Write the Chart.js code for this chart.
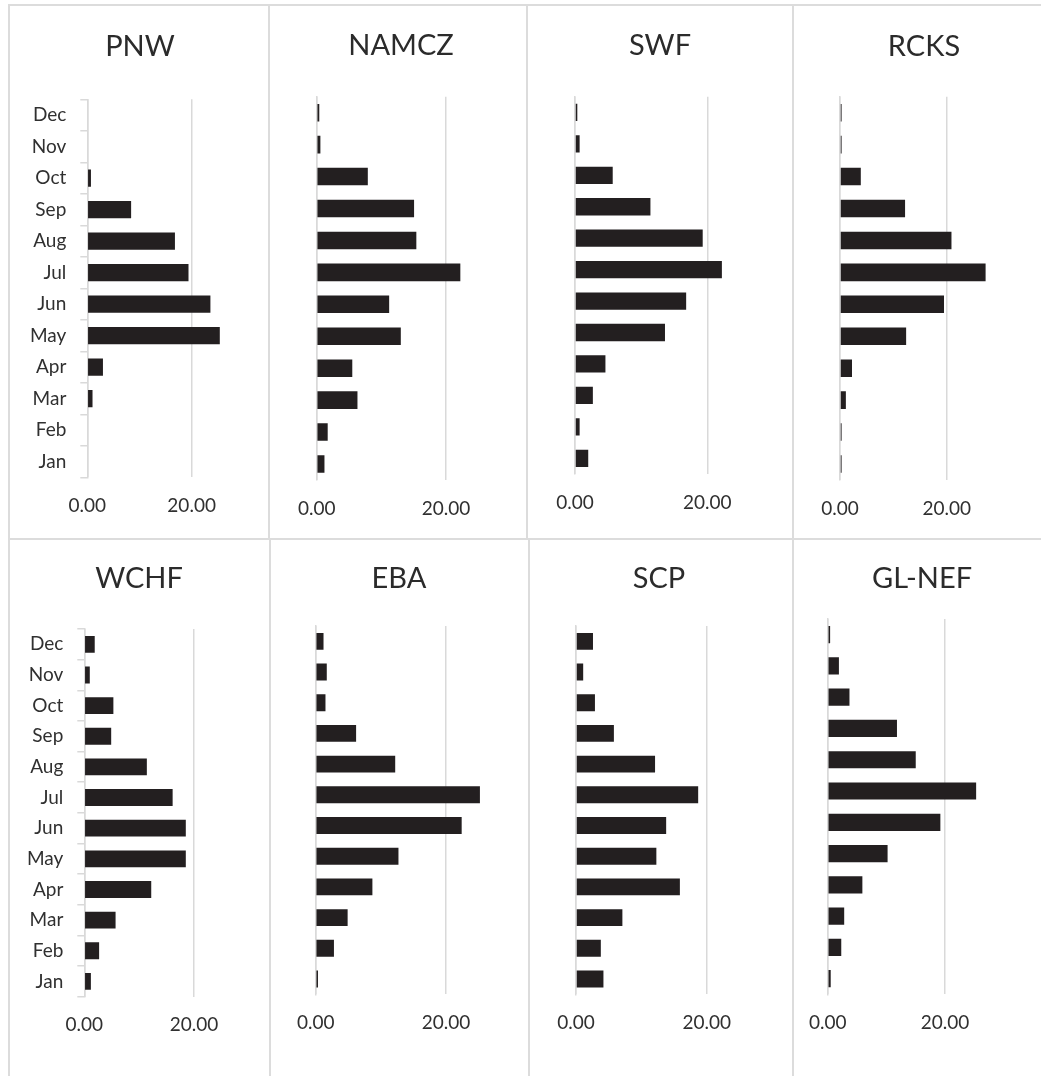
<!DOCTYPE html>
<html>
<head>
<meta charset="utf-8">
<script src="https://cdn.jsdelivr.net/npm/chart.js@4.4.1/dist/chart.umd.min.js"></script>
<style>
  html, body { margin: 0; padding: 0; background: #fff; overflow: hidden; width: 1041px; height: 1076px; }
  canvas { position: absolute; }
  .rule { position: absolute; background: #dcdcdc; }
</style>
</head>
<body>
<script>
// Monthly share (%) per region, January to December
const months = ['Jan', 'Feb', 'Mar', 'Apr', 'May', 'Jun', 'Jul', 'Aug', 'Sep', 'Oct', 'Nov', 'Dec'];
const regionNames = ['PNW', 'NAMCZ', 'SWF', 'RCKS', 'WCHF', 'EBA', 'SCP', 'GL-NEF'];

const pnw   = [0, 0, 1.0, 3.0, 25.4, 23.6, 19.4, 16.8, 8.4, 0.7, 0, 0];
const namcz = [1.2, 1.7, 6.3, 5.5, 13.0, 11.2, 22.2, 15.4, 15.05, 7.9, 0.57, 0.4];
const swf   = [2.0, 0.7, 2.7, 4.6, 13.6, 16.8, 22.2, 19.3, 11.4, 5.7, 0.7, 0.35];
const rcks  = [0.3, 0.3, 1.1, 2.25, 12.4, 19.5, 27.3, 20.9, 12.2, 3.9, 0.3, 0.3];
const wchf  = [1.2, 2.7, 5.7, 12.2, 18.5, 18.5, 16.1, 11.4, 4.9, 5.3, 1.0, 1.9];
const eba   = [0.35, 2.8, 4.9, 8.7, 12.7, 22.4, 25.2, 12.2, 6.2, 1.5, 1.7, 1.2];
const scp   = [4.2, 3.8, 7.1, 15.9, 12.3, 13.8, 18.7, 12.1, 5.8, 2.9, 1.1, 2.6];
const glnef = [0.5, 2.3, 2.8, 5.9, 10.2, 19.2, 25.3, 15.0, 11.8, 3.7, 1.9, 0.4];

const seriesByRegion = [pnw, namcz, swf, rcks, wchf, eba, scp, glnef];

// Value axis: shown ticks and range
const xTickValues = [0, 20];
const xMax = 30;

// Page layout of each small chart (pixels): title centre and plot-area edges
const layout = [
  { titleX: 140, titleY: 47,    top: 5,   height: 534, plot: [87.3, 243.8, 99.3, 477.3], labels: true },
  { titleX: 401, titleY: 46,    top: 5,   height: 534, plot: [316.7, 510.8, 96.7, 480.0], labels: false },
  { titleX: 660, titleY: 46,    top: 5,   height: 534, plot: [575.0, 773.5, 96.7, 474.0], labels: false },
  { titleX: 924, titleY: 46.5,  top: 5,   height: 534, plot: [840.0, 1000.0, 96.7, 480.0], labels: false },
  { titleX: 139, titleY: 578.5, top: 539, height: 537, plot: [84.3, 248.9, 629.0, 996.7], labels: true },
  { titleX: 399, titleY: 579,   top: 539, height: 537, plot: [315.7, 511.2, 626.0, 994.3], labels: false },
  { titleX: 659, titleY: 579,   top: 539, height: 537, plot: [576.0, 772.0, 626.0, 994.3], labels: false },
  { titleX: 922, titleY: 579,   top: 539, height: 537, plot: [827.7, 1003.7, 619.0, 994.3], labels: false }
];

const CANVAS_W = 260;
const TITLE_SIZE = 29;
const TITLE_LH = TITLE_SIZE * 1.2;
const GRID = '#d9d9d9';
const TEXT = '#303030';
const TITLE_COLOR = '#2b2b2b';
const BAR = '#231f20';
const FONT = 'Lato';

// Panel frame lines
const rules = [
  [8, 4, 1041 - 8, 2], [8, 538, 1041 - 8, 2], [8, 4, 2, 1076 - 4],
  [268, 4, 2, 536], [526, 4, 2, 536], [792, 4, 2, 536],
  [269, 538, 2, 538], [528, 538, 2, 538], [792, 538, 2, 538]
];
rules.forEach(([l, t, w, h]) => {
  const d = document.createElement('div');
  d.className = 'rule';
  d.style.left = l + 'px'; d.style.top = t + 'px';
  d.style.width = w + 'px'; d.style.height = h + 'px';
  document.body.appendChild(d);
});

regionNames.forEach((name, i) => {
  const L = layout[i];
  const cx = L.titleX - CANVAS_W / 2;
  const cy = L.top;
  const [pl, pr, pt, pb] = L.plot;

  const leftAxisW = pl - cx;
  const rightAxisW = cx + CANVAS_W - pr;
  const titlePadTop = (L.titleY - cy) - TITLE_LH / 2;
  const titlePadBottom = (pt - cy) - titlePadTop - TITLE_LH;
  const xAxisH = L.height - (pb - cy);

  const cv = document.createElement('canvas');
  cv.width = CANVAS_W; cv.height = L.height;
  cv.style.left = cx + 'px'; cv.style.top = cy + 'px';
  cv.style.width = CANVAS_W + 'px'; cv.style.height = L.height + 'px';
  document.body.appendChild(cv);

  new Chart(cv, {
    type: 'bar',
    data: {
      labels: months,
      datasets: [{
        data: seriesByRegion[i],
        backgroundColor: BAR,
        borderWidth: 0,
        barPercentage: 0.55,
        categoryPercentage: 1.0,
        xAxisID: 'x',
        yAxisID: 'y'
      }]
    },
    options: {
      indexAxis: 'y',
      responsive: false,
      animation: false,
      devicePixelRatio: 1,
      layout: { padding: 0 },
      plugins: {
        legend: { display: false },
        tooltip: { enabled: false },
        title: {
          display: true,
          text: name,
          color: TITLE_COLOR,
          font: { family: FONT, size: TITLE_SIZE, weight: 'normal' },
          padding: { top: titlePadTop, bottom: titlePadBottom }
        }
      },
      scales: {
        y: {
          type: 'category',
          axis: 'y',
          position: 'left',
          reverse: true,
          offset: true,
          grid: {
            display: L.labels,
            offset: true,
            drawOnChartArea: false,
            drawTicks: true,
            tickLength: 7,
            color: GRID,
            lineWidth: 1.5
          },
          border: { display: true, color: GRID, width: 1.5 },
          ticks: {
            display: L.labels,
            padding: 14,
            color: TEXT,
            font: { family: FONT, size: 19 },
            autoSkip: false
          },
          afterFit: (s) => { s.width = leftAxisW; }
        },
        yR: {
          type: 'linear',
          axis: 'y',
          position: 'right',
          display: true,
          grid: { display: false },
          border: { display: false },
          ticks: { display: false },
          afterFit: (s) => { s.width = rightAxisW; }
        },
        x: {
          type: 'linear',
          position: 'bottom',
          min: 0,
          max: xMax,
          grid: { color: GRID, lineWidth: 1.5, drawTicks: false },
          border: { display: false },
          ticks: {
            padding: 17,
            color: TEXT,
            font: { family: FONT, size: 19 },
            maxRotation: 0,
            autoSkip: false,
            callback: (v) => Number(v).toFixed(2)
          },
          afterBuildTicks: (s) => { s.ticks = xTickValues.map(v => ({ value: v })); },
          afterFit: (s) => { s.height = xAxisH; }
        }
      }
    }
  });
});
</script>
</body>
</html>
